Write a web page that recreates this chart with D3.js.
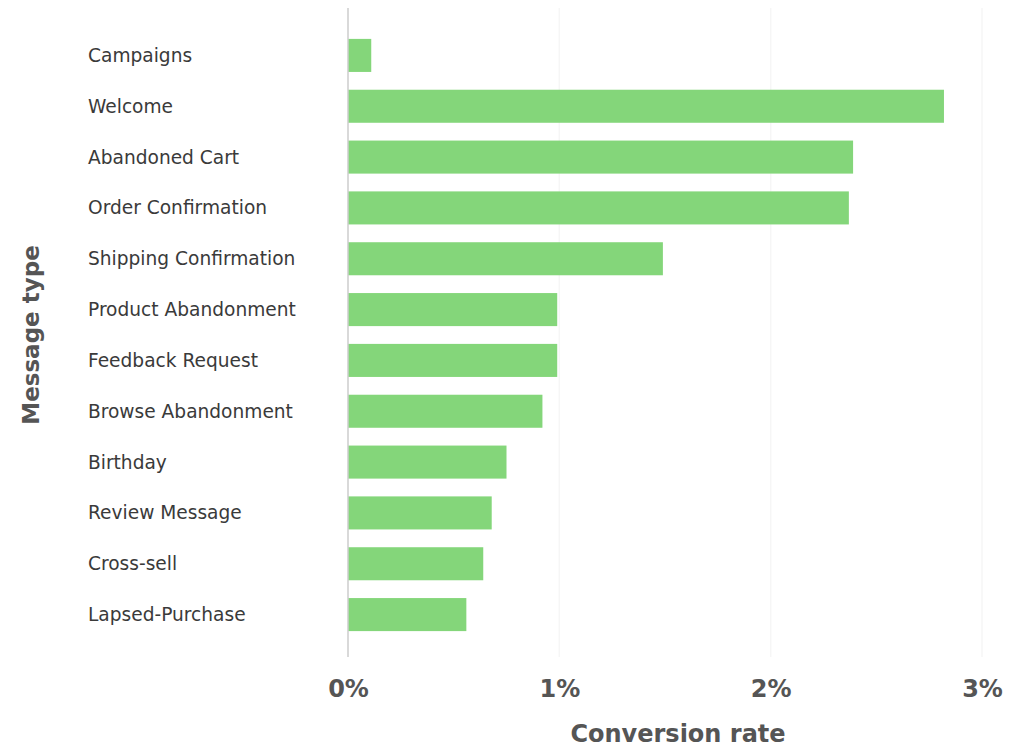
<!DOCTYPE html>
<html>
<head>
<meta charset="utf-8">
<script src="https://cdn.jsdelivr.net/npm/d3@7"></script>
<style>
  html, body { margin: 0; padding: 0; background: #ffffff; }
  svg { display: block; }
</style>
</head>
<body>
<svg id="chart" width="1010" height="747"></svg>
<script>
const categories = [
  "Campaigns", "Welcome", "Abandoned Cart", "Order Confirmation",
  "Shipping Confirmation", "Product Abandonment", "Feedback Request",
  "Browse Abandonment", "Birthday", "Review Message", "Cross-sell", "Lapsed-Purchase"
];
const conversionRates = [0.11, 2.82, 2.39, 2.37, 1.49, 0.99, 0.99, 0.92, 0.75, 0.68, 0.64, 0.56];
const tickValues = [0, 1, 2, 3];
const tickLabels = ["0%", "1%", "2%", "3%"];
const xTitle = "Conversion rate";
const yTitle = "Message type";

const svg = d3.select("#chart");
const x = d3.scaleLinear().domain([0, 3]).range([348, 982]);
const y = d3.scaleBand().domain(categories).range([30, 640])
  .paddingInner(0.35).paddingOuter(0.175);

// faint gridlines
svg.append("g").selectAll("line").data(tickValues.slice(1)).join("line")
  .attr("x1", d => x(d)).attr("x2", d => x(d))
  .attr("y1", 8).attr("y2", 657)
  .attr("stroke", "#f6f6f6").attr("stroke-width", 1.5);

// bars
svg.append("g").selectAll("rect").data(categories).join("rect")
  .attr("x", x(0))
  .attr("y", d => y(d))
  .attr("width", (d, i) => x(conversionRates[i]) - x(0))
  .attr("height", y.bandwidth())
  .attr("fill", "#84d67a");

// baseline axis line
svg.append("line")
  .attr("x1", x(0)).attr("x2", x(0))
  .attr("y1", 8).attr("y2", 657)
  .attr("stroke", "#cccccc").attr("stroke-width", 1.5);

// category labels
svg.append("g").selectAll("text").data(categories).join("text")
  .attr("x", 88)
  .attr("y", d => y(d) + y.bandwidth() / 2)
  .attr("dominant-baseline", "central")
  .attr("font-family", "DejaVu Sans, sans-serif")
  .attr("font-size", 18.6)
  .attr("fill", "#3a3a3a")
  .text(d => d);

// x axis tick labels
const xAxis = d3.axisBottom(x)
  .tickValues(tickValues)
  .tickFormat((d, i) => tickLabels[i])
  .tickSize(0)
  .tickPadding(0);
const gx = svg.append("g").attr("transform", "translate(0,680)").call(xAxis);
gx.select(".domain").remove();
gx.selectAll("text")
  .attr("dy", "0.71em")
  .attr("font-family", "DejaVu Sans, sans-serif")
  .attr("font-weight", "bold")
  .attr("font-size", 24)
  .attr("fill", "#555555");

// axis titles
svg.append("text")
  .attr("x", 678).attr("y", 742)
  .attr("text-anchor", "middle")
  .attr("font-family", "DejaVu Sans, sans-serif")
  .attr("font-weight", "bold")
  .attr("font-size", 24)
  .attr("fill", "#555555")
  .text(xTitle);

svg.append("text")
  .attr("transform", "translate(39,335) rotate(-90)")
  .attr("text-anchor", "middle")
  .attr("font-family", "DejaVu Sans, sans-serif")
  .attr("font-weight", "bold")
  .attr("font-size", 23)
  .attr("fill", "#555555")
  .text(yTitle);
</script>
</body>
</html>
